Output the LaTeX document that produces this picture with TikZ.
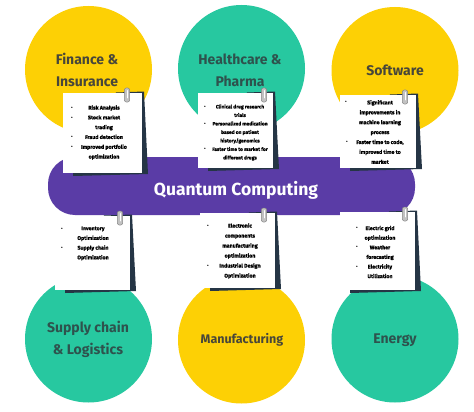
\documentclass[tikz,border=0pt]{standalone}
\usepackage{fontspec}
\setmainfont{Fira Sans}
\newfontfamily\notefont{Fira Sans}[BoldFeatures={FakeBold=1.2}]
\definecolor{qyellow}{HTML}{FDD005}
\definecolor{qteal}{HTML}{27C8A0}
\definecolor{qpurple}{HTML}{5A3CA6}
\definecolor{qtxtY}{HTML}{47463A}
\definecolor{qtxtT}{HTML}{2E524D}
\definecolor{qshadow}{HTML}{253545}
\definecolor{qclip}{HTML}{A8A8A8}
\tikzset{
  bubble/.style={circle, minimum size=127pt, inner sep=0pt},
  ctitle/.style={font=\fontsize{14}{22}\selectfont\bfseries, align=center, inner sep=0pt},
  notebox/.style={fill=white, inner sep=0pt, anchor=north west},
  notetext/.style={font=\notefont\fontsize{5.3}{#1}\selectfont\bfseries, align=center, inner sep=0pt, text=black},
  bul/.style={font=\fontsize{4.8}{6}\selectfont\bfseries, inner sep=0pt, text=black},
  clipshape/.style={draw=qclip!80!black, fill=qclip!70, line width=0.5pt, rounded corners=2pt},
}
% #1 name, #2 xl, #3 yt, #4 xr, #5 yb, #6 clip x
\newcommand\qnote[6]{%
  \fill[qshadow] ({#4-26},{#3-0.5}) -- ({#4+2},{#3-1.5}) -- ({#4+6},{#5+1}) -- ({#2+10},{#5+3}) -- ({#2+10},{#5-2}) -- cycle;
  \node[notebox, minimum width={(#4-#2)*1pt}, minimum height={(#5-#3)*1pt}] (#1) at (#2,#3) {};
  \draw[clipshape] ({#6-2.6},{#3-5}) rectangle ({#6+2.6},{#3+9});
  \draw[white, line width=0.8pt, line cap=round] (#6,{#3-2.5}) -- (#6,{#3+5});
}
\begin{document}
\begin{tikzpicture}[x=1pt,y=-1pt]
\useasboundingbox (0,0) rectangle (474,412);
\fill[white] (0,0) rectangle (474,412);
% circles
\node[bubble, fill=qyellow] (fin) at (88.5,69.5) {};
\node[bubble, fill=qteal] (hea) at (241.5,68.5) {};
\node[bubble, fill=qyellow] (sof) at (395,70.5) {};
\node[bubble, fill=qteal] (sup) at (88.5,339) {};
\node[bubble, fill=qyellow] (man) at (241.5,340) {};
\node[bubble, fill=qteal] (ene) at (395,339) {};
% titles
\node[ctitle, text=qtxtY] (tfin) at (87,70) {Finance \&\\Insurance};
\node[ctitle, text=qtxtT] (thea) at (240,70) {Healthcare \&\\Pharma};
\node[ctitle, text=qtxtY] (tsof) at (395,70) {Software};
\node[ctitle, text=qtxtT] (tsup) at (88,339.5) {Supply chain\\\& Logistics};
\node[ctitle, text=qtxtY, font=\fontsize{12.5}{20}\selectfont\bfseries] (tman) at (242,340) {Manufacturing};
\node[ctitle, text=qtxtT] (tene) at (395,340) {Energy};
% band
\node[fill=qpurple, rounded corners=27pt, minimum width=367pt, minimum height=58pt, inner sep=0pt] (band) at (231.5,186) {};
\node[font=\fontsize{17.5}{22}\selectfont\bfseries, text=white, inner sep=0pt] (qc) at (236,190) {Quantum Computing};
% notes
\qnote{n1}{63}{93}{142}{173}{127}
\qnote{n2}{198}{93}{273}{168}{264}
\qnote{n3}{340}{95}{416}{168}{405}
\qnote{n4}{55}{216}{130}{290}{120}
\qnote{n5}{200}{213}{275}{288}{264}
\qnote{n6}{340}{212}{415}{290}{405}
% note 1 text
\node[notetext=9.8] (x1) at (104,132.5) {Risk Analysis\\Stock market\\trading\\Fraud detection\\Improved portfolio\\optimization};
\node[bul] (b11) at (72,108) {\textbullet};
\node[bul] (b12) at (72,118) {\textbullet};
\node[bul] (b13) at (72,137) {\textbullet};
\node[bul] (b14) at (72,147) {\textbullet};
% note 2 text
\node[notetext=8.5, font=\notefont\fontsize{4.9}{8.5}\selectfont\bfseries] (x2) at (240,132.5) {Clinical drug research\\trials\\Personalized medication\\based on patient\\history/genomics\\Faster time to market for\\different drugs};
\node[bul] (b21) at (205,107) {\textbullet};
\node[bul] (b22) at (205,124) {\textbullet};
\node[bul] (b23) at (205,149) {\textbullet};
% note 3 text
\node[notetext=9.9] (x3) at (380,132) {Significant\\improvements in\\machine learning\\process\\Faster time to code,\\improved time to\\market};
\node[bul] (b31) at (346,102) {\textbullet};
\node[bul] (b32) at (347,142) {\textbullet};
% note 4 text
\node[notetext=9.7] (x4) at (93,243.5) {Inventory\\Optimization\\Supply chain\\Optimization};
\node[bul] (b41) at (62,229) {\textbullet};
\node[bul] (b42) at (62,248) {\textbullet};
% note 5 text
\node[notetext=10] (x5) at (240,251) {Electronic\\components\\manufacturing\\optimization\\Industrial Design\\Optimization};
\node[bul] (b51) at (208,226) {\textbullet};
\node[bul] (b52) at (208,266) {\textbullet};
% note 6 text
\node[notetext=9.6] (x6) at (380,252) {Electric grid\\optimization\\Weather\\forecasting\\Electricity\\Utilization};
\node[bul] (b61) at (357,228) {\textbullet};
\node[bul] (b62) at (357,247) {\textbullet};
\node[bul] (b63) at (357,267) {\textbullet};
\end{tikzpicture}
\end{document}
